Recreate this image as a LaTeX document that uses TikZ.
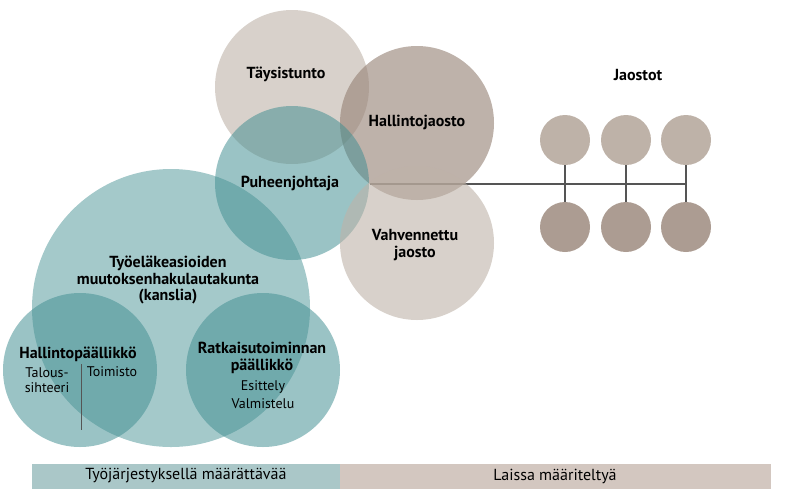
\documentclass[tikz,border=0pt]{standalone}
\usepackage{fontspec}
\setmainfont{PT Sans}
\definecolor{tealbase}{RGB}{65,142,145}
\definecolor{lightbase}{RGB}{190,179,168}
\definecolor{darkbase}{RGB}{150,130,118}
\definecolor{smtop}{RGB}{190,178,168}
\definecolor{smbot}{RGB}{172,156,146}
\definecolor{connc}{RGB}{85,85,85}
\definecolor{barteal}{RGB}{170,199,200}
\definecolor{barbeige}{RGB}{211,199,192}
\begin{document}
\begin{tikzpicture}[x=1pt,y=-1pt,
  tealc/.style={circle,inner sep=0pt,fill=tealbase,fill opacity=0.53,minimum size=154pt},
  lightc/.style={circle,inner sep=0pt,fill=lightbase,fill opacity=0.6,minimum size=154pt},
  darkc/.style={circle,inner sep=0pt,fill=darkbase,fill opacity=0.62,minimum size=154pt},
  smalltop/.style={circle,inner sep=0pt,fill=smtop,minimum size=50pt},
  smallbot/.style={circle,inner sep=0pt,fill=smbot,minimum size=50pt},
  lbl/.style={font=\bfseries\fontsize{16}{16.5}\selectfont,align=center,inner sep=0pt,text=black},
  sub/.style={font=\fontsize{14}{16}\selectfont,align=center,inner sep=0pt,text=black},
  conn/.style={draw=connc,line width=1.3pt},
  bartext/.style={font=\fontsize{16}{17}\selectfont,inner sep=0pt,text=black}
]
\useasboundingbox (0,0) rectangle (795,499);
% connectors first
\coordinate (lstart) at (370,184);
\coordinate (lend) at (686,184);
\draw[conn] (lstart) -- (lend);
\node[smalltop] (jt1) at (565,140) {};
\node[smalltop] (jt2) at (626,140) {};
\node[smalltop] (jt3) at (686,140) {};
\node[smallbot] (jb1) at (565,227) {};
\node[smallbot] (jb2) at (626,227) {};
\node[smallbot] (jb3) at (686,227) {};
\draw[conn] (jt1) -- (jb1);
\draw[conn] (jt2) -- (jb2);
\draw[conn] (jt3) -- (jb3);
% big circles
\node[tealc,fill opacity=0.48,minimum size=278pt] (tyo) at (171,308) {};
\node[tealc] (hp) at (80,370) {};
\node[tealc] (rp) at (263,370) {};
\node[lightc] (tays) at (292,87) {};
\node[darkc] (hj) at (417,123) {};
\node[tealc] (puh) at (292,183) {};
\node[lightc] (vahv) at (417,243) {};
% labels
\node[lbl] (tTays) at (286,74) {Täysistunto};
\node[lbl] (tHj) at (417,122) {Hallintojaosto};
\node[lbl] (tPuh) at (290,183) {Puheenjohtaja};
\node[lbl] (tVahv) at (415,245) {Vahvennettu\\jaosto};
\node[lbl] (tTyo) at (168,280) {Työeläkeasioiden\\muutoksenhakulautakunta\\(kanslia)};
\node[lbl] (tHp) at (78,354) {Hallintopäällikkö};
\node[sub,font=\fontsize{14}{15}\selectfont] (tTal) at (47,380) {Talous-\\sihteeri};
\node[sub] (tToim) at (112,372) {Toimisto};
\coordinate (vtop) at (81,364);
\coordinate (vbot) at (81,430);
\draw[conn,line width=1pt] (vtop) -- (vbot);
\node[lbl] (tRp) at (262,358) {Ratkaisutoiminnan\\päällikkö};
\node[sub,font=\fontsize{14}{18}\selectfont] (tEs) at (263,395) {Esittely\\Valmistelu};
\node[lbl] (tJao) at (638,75) {Jaostot};
% bottom bars
\fill[barteal] (32,464) rectangle (340,489);
\fill[barbeige] (340,464) rectangle (771,489);
\node[bartext] (b1) at (186,476) {Työjärjestyksellä määrättävää};
\node[bartext] (b2) at (555,476) {Laissa määriteltyä};
\end{tikzpicture}
\end{document}
